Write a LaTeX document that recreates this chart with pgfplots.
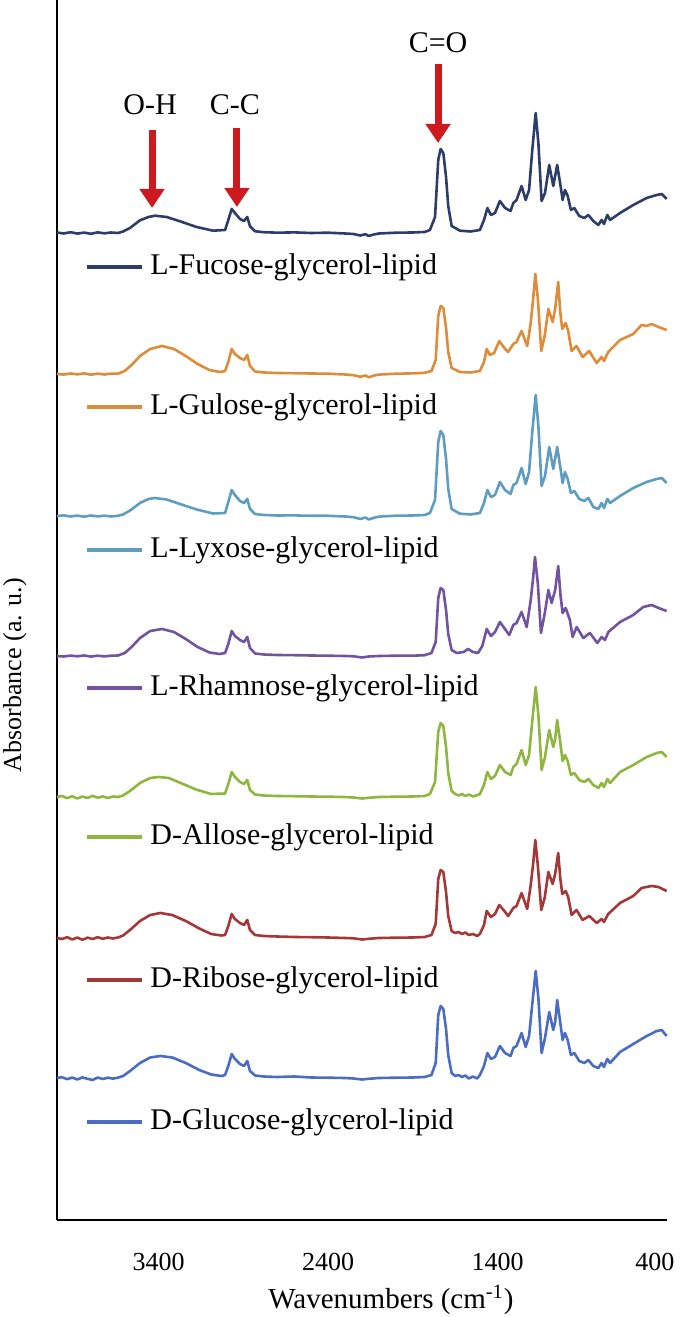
\documentclass[border=0pt]{standalone}
\usepackage{fontspec}
\setmainfont{Liberation Serif}
\usepackage{pgfplots}
\pgfplotsset{compat=1.18}
\usetikzlibrary{arrows.meta}
\definecolor{cFuc}{RGB}{44,62,104}
\definecolor{cGul}{RGB}{222,140,58}
\definecolor{cLyx}{RGB}{95,157,192}
\definecolor{cRha}{RGB}{112,84,160}
\definecolor{cAll}{RGB}{143,183,64}
\definecolor{cRib}{RGB}{163,56,56}
\definecolor{cGlc}{RGB}{74,108,196}
\definecolor{cRed}{RGB}{204,26,30}
\begin{document}
\begin{tikzpicture}
\begin{axis}[
  scale only axis, width=305pt, height=610pt,
  xmin=400, xmax=4000, ymin=0, ymax=1220, x dir=reverse,
  axis x line=bottom, axis y line=left,
  axis line style={-, line width=0.8pt, black},
  xtick={400,1400,2400,3400}, xticklabels={{\hspace*{-12pt}400},1400,2400,3400},
  ytick=\empty, major tick length=0pt,
  xticklabel style={font=\fontsize{13}{15}\selectfont, anchor=center, yshift=-21pt},
  xlabel={Wavenumbers (cm\textsuperscript{-1})},
  xlabel style={font=\fontsize{14.5}{16}\selectfont, at={(axis description cs:0.5475,-0.0656)}, anchor=center},
  ylabel={Absorbance (a. u.)},
  ylabel style={font=\fontsize{13}{15}\selectfont, at={(axis description cs:-0.0689,0.4467)}, anchor=center},
  clip=false,
  every axis plot/.append style={line width=1.3pt, line join=round, no markers},
]
\coordinate (SW) at (axis description cs:0,0);
\coordinate (NE) at (axis description cs:1,1);

% L-Fucose (baseline offset 987)
\addplot[cFuc] table[row sep=\\, x=x, y expr=\thisrow{h}+987] {
x h\\
4000 0.5\\ 3960 -0.5\\ 3920 0.8\\ 3880 -0.6\\ 3840 0.4\\ 3800 -0.8\\ 3760 0.6\\ 3720 -0.3\\ 3680 0.5\\ 3640 0\\
3610 1.5\\ 3569 5\\ 3510 12.7\\ 3460 16\\ 3422 17.3\\ 3353 16\\ 3274 11.7\\ 3176 6\\ 3079 2.3\\ 3008 3\\
2989 13\\ 2969 24\\ 2950 20\\ 2920 14\\ 2896 12\\ 2877 16\\ 2861 6.7\\ 2831 1.7\\ 2780 0.8\\ 2700 0.3\\
2600 0.6\\ 2500 0\\ 2400 0.3\\ 2300 -0.5\\ 2250 -1\\ 2210 -2.5\\ 2180 -1.2\\ 2160 -3\\ 2130 -1.5\\ 2100 -0.5\\
2000 0.3\\ 1900 0.5\\ 1830 1\\ 1799 3\\ 1769 16\\ 1750 73\\ 1736 84\\ 1720 80\\ 1704 56\\ 1691 27\\
1671 7\\ 1622 2.3\\ 1560 1.5\\ 1504 3\\ 1480 13\\ 1460 25\\ 1439 18\\ 1415 20\\ 1386 32\\ 1356 25\\
1323 22\\ 1307 30\\ 1288 33\\ 1258 47\\ 1234 33\\ 1214 43\\ 1195 83\\ 1175 120\\ 1159 90\\ 1140 32\\
1120 40\\ 1095 68\\ 1071 47\\ 1048 68\\ 1028 47\\ 1016 33\\ 1002 43\\ 986 37\\ 967 23\\ 947 25\\
918 17\\ 888 15\\ 864 18\\ 835 12\\ 805 8\\ 786 13\\ 772 9\\ 752 18\\ 736 13\\ 677 20\\
599 28\\ 520 35\\ 461 38\\ 431 39\\ 402 34\\
};

% L-Gulose (offset 846)
\addplot[cGul] table[row sep=\\, x=x, y expr=\thisrow{h}+846] {
x h\\
4000 0\\ 3960 -0.6\\ 3920 0.5\\ 3880 -0.4\\ 3840 0.6\\ 3800 -0.7\\ 3760 0.3\\ 3720 -0.5\\ 3680 0.4\\ 3640 0.3\\
3600 3\\ 3560 9\\ 3510 18\\ 3450 25\\ 3380 28\\ 3310 25\\ 3240 18\\ 3170 10\\ 3100 4\\ 3040 2\\
3008 3\\ 2989 12\\ 2969 25\\ 2950 20\\ 2920 16\\ 2896 14\\ 2877 19\\ 2861 8\\ 2831 2.5\\ 2780 1.5\\
2700 1\\ 2600 0.8\\ 2500 0.5\\ 2400 0.3\\ 2300 -0.5\\ 2250 -1.2\\ 2210 -2.8\\ 2180 -1.5\\ 2160 -3.3\\ 2130 -1.6\\
2100 -0.6\\ 2000 0.3\\ 1900 0.6\\ 1830 1.2\\ 1790 3\\ 1765 14\\ 1750 58\\ 1736 68\\ 1720 66\\ 1704 46\\
1691 22\\ 1671 6\\ 1622 2\\ 1560 1.5\\ 1504 3\\ 1480 12\\ 1464 25\\ 1445 19\\ 1420 21\\ 1390 33\\
1360 26\\ 1337 22\\ 1307 30\\ 1288 32\\ 1258 43\\ 1225 28\\ 1205 50\\ 1190 75\\ 1177 100\\ 1162 75\\
1142 23\\ 1122 38\\ 1100 65\\ 1075 52\\ 1060 65\\ 1042 92\\ 1030 62\\ 1018 45\\ 998 51\\ 983 43\\
963 23\\ 934 28\\ 898 17\\ 859 23\\ 815 11\\ 786 17\\ 772 13\\ 747 22\\ 677 34\\ 599 40\\
550 49\\ 520 48\\ 491 50\\ 450 47\\ 402 44\\
};

% L-Lyxose (offset 704)
\addplot[cLyx] table[row sep=\\, x=x, y expr=\thisrow{h}+704] {
x h\\
4000 0\\ 3960 0.6\\ 3920 -0.5\\ 3880 0.4\\ 3840 -0.7\\ 3800 0.5\\ 3760 -0.4\\ 3720 0.3\\ 3680 -0.5\\ 3640 0.2\\
3610 1.5\\ 3569 5.5\\ 3510 13\\ 3460 17\\ 3422 18\\ 3353 16.5\\ 3274 12\\ 3176 6.5\\ 3079 2.5\\ 3008 3\\
2989 14\\ 2969 26\\ 2950 21\\ 2920 15\\ 2896 13\\ 2877 17\\ 2861 7\\ 2831 2\\ 2780 1\\ 2700 0.5\\
2600 0.6\\ 2500 0.2\\ 2400 0.2\\ 2300 -0.5\\ 2250 -1.2\\ 2210 -3\\ 2180 -1.5\\ 2160 -3.5\\ 2130 -1.8\\ 2100 -0.6\\
2000 0.3\\ 1900 0.5\\ 1830 1\\ 1799 3\\ 1769 16\\ 1750 74\\ 1736 85\\ 1720 81\\ 1704 57\\ 1691 27\\
1671 7\\ 1622 2.3\\ 1560 1.5\\ 1504 3\\ 1480 13\\ 1460 26\\ 1439 19\\ 1415 21\\ 1386 34\\ 1356 26\\
1323 22\\ 1307 31\\ 1288 33\\ 1258 48\\ 1234 32\\ 1214 44\\ 1195 84\\ 1175 121\\ 1159 90\\ 1140 30\\
1120 40\\ 1095 69\\ 1071 47\\ 1048 69\\ 1028 47\\ 1016 33\\ 1002 44\\ 986 37\\ 967 23\\ 947 25\\
918 17\\ 888 15\\ 864 18\\ 835 9\\ 805 7\\ 786 13\\ 772 8\\ 752 17\\ 736 13\\ 677 20\\
599 28\\ 520 34\\ 461 37\\ 431 38\\ 402 33\\
};

% L-Rhamnose (offset 564)
\addplot[cRha] table[row sep=\\, x=x, y expr=\thisrow{h}+564] {
x h\\
4000 0\\ 3960 -0.5\\ 3920 0.4\\ 3880 -0.3\\ 3840 0.5\\ 3800 -0.6\\ 3760 0.3\\ 3720 -0.4\\ 3680 0.3\\ 3640 0.5\\
3600 3\\ 3560 9\\ 3510 18\\ 3450 25\\ 3380 27\\ 3310 24\\ 3240 17\\ 3170 9\\ 3100 3.5\\ 3040 2\\
3008 3\\ 2989 12\\ 2969 25\\ 2950 20\\ 2920 16\\ 2896 14\\ 2877 19\\ 2861 8\\ 2831 2.5\\ 2780 1.5\\
2700 1\\ 2600 0.8\\ 2500 0.5\\ 2400 0.3\\ 2300 0\\ 2250 -0.3\\ 2200 -1.5\\ 2160 -0.5\\ 2100 0\\ 2000 0.3\\
1900 0.3\\ 1830 0.8\\ 1790 3\\ 1765 14\\ 1750 58\\ 1736 68\\ 1720 66\\ 1704 46\\ 1691 22\\ 1671 6\\
1641 3\\ 1600 4\\ 1574 7\\ 1545 4\\ 1515 3\\ 1490 10\\ 1464 27\\ 1439 20\\ 1415 24\\ 1386 34\\
1356 27\\ 1331 21\\ 1307 31\\ 1288 33\\ 1258 44\\ 1228 29\\ 1205 55\\ 1190 78\\ 1179 99\\ 1162 72\\
1144 23\\ 1122 42\\ 1100 66\\ 1081 53\\ 1060 66\\ 1042 90\\ 1028 60\\ 1016 43\\ 998 48\\ 973 36\\
957 19\\ 933 29\\ 894 18\\ 855 23\\ 811 13\\ 786 19\\ 766 16\\ 746 24\\ 677 34\\ 599 41\\
540 49\\ 490 51\\ 450 48\\ 402 45\\
};

% D-Allose (offset 423)
\addplot[cAll] table[row sep=\\, x=x, y expr=\thisrow{h}+423] {
x h\\
4000 0\\ 3970 1\\ 3940 -1.2\\ 3910 0.8\\ 3880 -1.5\\ 3850 0.5\\ 3820 -1\\ 3790 1.2\\ 3760 -0.8\\ 3730 0.6\\
3700 -1\\ 3670 0.5\\ 3640 0\\ 3610 1.5\\ 3569 6\\ 3510 14\\ 3450 19\\ 3400 20\\ 3340 19\\ 3270 14\\
3180 7.5\\ 3090 3\\ 3008 3.5\\ 2989 13\\ 2969 25\\ 2950 20\\ 2920 15\\ 2896 13\\ 2877 17\\ 2861 7\\
2831 2.5\\ 2780 1.5\\ 2700 1\\ 2600 0.8\\ 2500 0.5\\ 2400 0.3\\ 2300 0\\ 2250 -0.5\\ 2200 -1.5\\ 2160 -0.8\\
2100 0\\ 2000 0.3\\ 1900 0.5\\ 1830 1\\ 1799 3\\ 1769 15\\ 1750 65\\ 1736 74\\ 1720 71\\ 1704 50\\
1691 24\\ 1671 6\\ 1650 3\\ 1630 1.5\\ 1610 3\\ 1590 1\\ 1570 2.5\\ 1545 0.5\\ 1520 2\\ 1504 3\\
1480 12\\ 1460 25\\ 1439 18\\ 1415 21\\ 1386 32\\ 1356 25\\ 1323 22\\ 1307 30\\ 1288 33\\ 1258 47\\
1234 32\\ 1214 42\\ 1195 76\\ 1175 110\\ 1159 82\\ 1140 27\\ 1120 40\\ 1095 67\\ 1071 50\\ 1060 58\\
1048 77\\ 1028 52\\ 1016 36\\ 1002 42\\ 986 36\\ 967 22\\ 947 24\\ 918 17\\ 888 15\\ 864 18\\
835 12\\ 805 9\\ 786 14\\ 772 10\\ 752 18\\ 736 14\\ 677 25\\ 599 32\\ 520 40\\ 461 44\\
431 45\\ 402 40\\
};

% D-Ribose (offset 282)
\addplot[cRib] table[row sep=\\, x=x, y expr=\thisrow{h}+282] {
x h\\
4000 0\\ 3970 -1\\ 3940 0.8\\ 3910 -1.5\\ 3880 0.5\\ 3850 -1.8\\ 3820 0.3\\ 3790 -1\\ 3760 0.8\\ 3730 -0.8\\
3700 0.5\\ 3670 -0.5\\ 3640 0.5\\ 3610 2.5\\ 3569 8\\ 3510 17\\ 3450 23\\ 3390 25\\ 3320 23\\ 3240 17\\
3160 9.5\\ 3090 4\\ 3030 2.5\\ 3008 3\\ 2989 12\\ 2969 24\\ 2950 19\\ 2920 15\\ 2896 13\\ 2877 18\\
2861 8\\ 2831 3\\ 2780 2\\ 2700 1.5\\ 2600 1\\ 2500 0.8\\ 2400 0.5\\ 2300 0\\ 2250 -0.3\\ 2200 -1.5\\
2160 -0.8\\ 2100 0\\ 2000 0.3\\ 1900 0.5\\ 1830 1\\ 1790 3\\ 1765 14\\ 1750 59\\ 1736 68\\ 1720 66\\
1704 46\\ 1691 22\\ 1671 7\\ 1650 5\\ 1630 6\\ 1610 4\\ 1590 5.5\\ 1570 3\\ 1545 4\\ 1520 2\\
1504 4\\ 1480 13\\ 1464 27\\ 1439 21\\ 1415 24\\ 1390 33\\ 1360 27\\ 1337 22\\ 1307 30\\ 1288 32\\
1258 45\\ 1225 29\\ 1205 52\\ 1190 74\\ 1177 98\\ 1162 72\\ 1142 28\\ 1122 40\\ 1100 66\\ 1075 54\\
1060 64\\ 1042 85\\ 1030 60\\ 1018 44\\ 998 47\\ 983 41\\ 963 23\\ 934 28\\ 898 18\\ 859 22\\
815 15\\ 786 19\\ 772 16\\ 747 24\\ 677 35\\ 599 42\\ 550 50\\ 491 52\\ 450 51\\ 402 47\\
};

% D-Glucose (offset 142)
\addplot[cGlc] table[row sep=\\, x=x, y expr=\thisrow{h}+142] {
x h\\
4000 0\\ 3970 0.8\\ 3940 -1.2\\ 3910 0.5\\ 3880 -1.5\\ 3850 0.6\\ 3820 -0.8\\ 3790 -2\\ 3760 0.5\\ 3730 -1\\
3700 0.3\\ 3670 -0.6\\ 3640 0.3\\ 3610 2\\ 3569 7\\ 3510 15\\ 3450 20.5\\ 3390 22\\ 3320 20.5\\ 3240 15\\
3160 8\\ 3090 3.5\\ 3030 2\\ 3008 3\\ 2989 12\\ 2969 24\\ 2950 19\\ 2920 14\\ 2896 12\\ 2877 17\\
2861 7\\ 2831 2.5\\ 2780 1.5\\ 2700 1\\ 2600 1.5\\ 2500 0.5\\ 2400 0.3\\ 2300 0\\ 2250 -0.5\\ 2200 -1.5\\
2160 -0.8\\ 2100 0\\ 2000 0.3\\ 1900 0.5\\ 1830 1\\ 1790 3\\ 1765 15\\ 1750 63\\ 1736 72\\ 1720 69\\
1704 49\\ 1691 23\\ 1671 5\\ 1650 2\\ 1630 3\\ 1610 1\\ 1590 2.5\\ 1570 -0.5\\ 1545 1.5\\ 1520 -0.5\\
1504 3\\ 1480 12\\ 1460 25\\ 1439 19\\ 1415 21\\ 1386 32\\ 1356 25\\ 1323 22\\ 1307 30\\ 1288 32\\
1258 45\\ 1234 31\\ 1214 42\\ 1195 74\\ 1175 107\\ 1159 80\\ 1140 25\\ 1120 40\\ 1095 66\\ 1071 48\\
1060 56\\ 1048 78\\ 1028 53\\ 1016 38\\ 1002 45\\ 986 38\\ 967 23\\ 947 25\\ 918 17\\ 888 15\\
864 18\\ 835 12\\ 805 10\\ 786 15\\ 772 11\\ 752 19\\ 736 15\\ 677 26\\ 599 34\\ 520 42\\
461 47\\ 431 48\\ 402 42\\
};

% legend entries
\foreach \yy/\cc/\tt in {953/cFuc/L-Fucose-glycerol-lipid, 813/cGul/L-Gulose-glycerol-lipid, 670/cLyx/L-Lyxose-glycerol-lipid, 532/cRha/L-Rhamnose-glycerol-lipid, 383/cAll/D-Allose-glycerol-lipid, 240/cRib/D-Ribose-glycerol-lipid, 98/cGlc/D-Glucose-glycerol-lipid}{
  \edef\tmp{\noexpand\draw[\cc, line width=1.6pt] (axis cs:3823,\yy) -- (axis cs:3498,\yy);}\tmp
  \edef\tmp{\noexpand\node[anchor=west, inner sep=0pt, font=\noexpand\fontsize{15}{17}\noexpand\selectfont] at (axis cs:3451,\yy) {\tt};}\tmp
}

% annotations
\draw[cRed, line width=3.5pt, -{Triangle[width=12pt,length=9.5pt]}] (axis cs:3439,1090) -- (axis cs:3439,1012);
\draw[cRed, line width=3.5pt, -{Triangle[width=12pt,length=9.5pt]}] (axis cs:2938,1092) -- (axis cs:2938,1013);
\draw[cRed, line width=3.5pt, -{Triangle[width=12pt,length=9.5pt]}] (axis cs:1751,1156) -- (axis cs:1751,1077);
\node[font=\fontsize{15}{17}\selectfont] at (axis cs:3451,1115) {O-H};
\node[font=\fontsize{15}{17}\selectfont] at (axis cs:2950,1115) {C-C};
\node[font=\fontsize{15}{17}\selectfont] at (axis cs:1751,1177) {C=O};
\end{axis}
\pgfresetboundingbox
\path ([shift={(-28.5pt,-48.5pt)}]SW) rectangle ([shift={(11pt,0pt)}]NE);
\end{tikzpicture}
\end{document}
